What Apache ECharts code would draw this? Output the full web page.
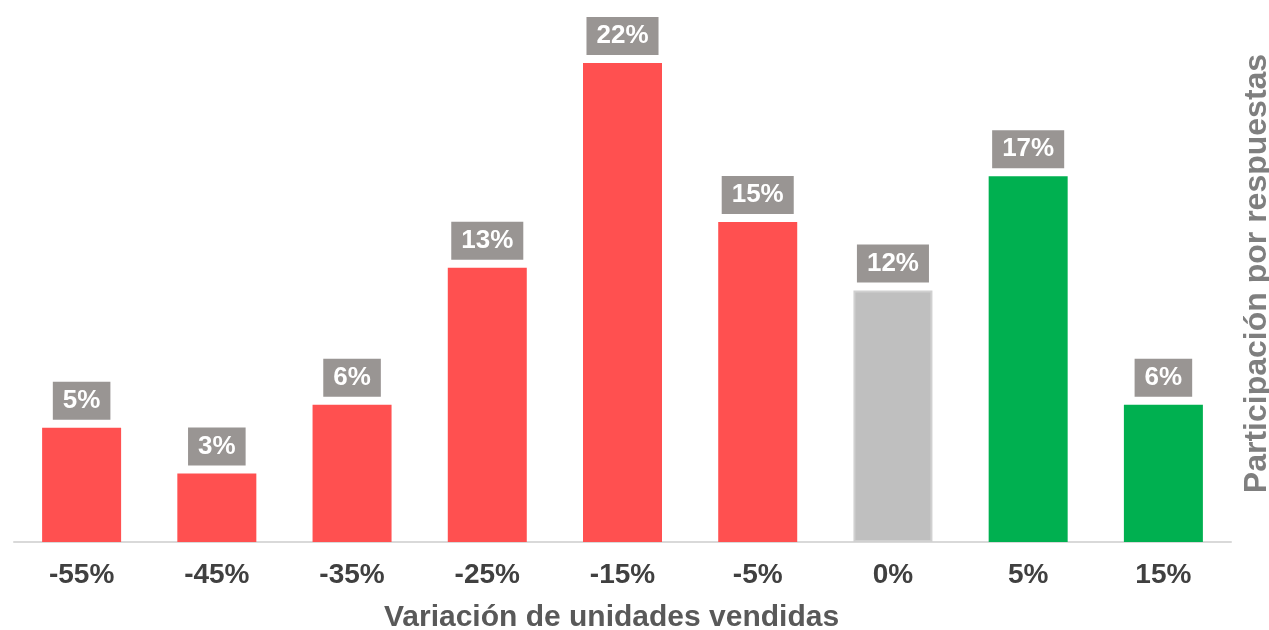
<!DOCTYPE html>
<html>
<head>
<meta charset="utf-8">
<script src="https://cdn.jsdelivr.net/npm/echarts@6/dist/echarts.min.js"></script>
<style>
html,body{margin:0;padding:0;background:#fff;}
#chart{width:1269px;height:630px;}
</style>
</head>
<body>
<div id="chart"></div>
<script>
const categories = ['-55%','-45%','-35%','-25%','-15%','-5%','0%','5%','15%'];
const values = [5.32, 3.19, 6.39, 12.77, 22.30, 14.90, 11.71, 17.03, 6.39];
const barColors = ['#ff5050','#ff5050','#ff5050','#ff5050','#ff5050','#ff5050','#bfbfbf','#00b050','#00b050'];
const xName = 'Variación de unidades vendidas';
const yName = 'Participación por respuestas';

const chart = echarts.init(document.getElementById('chart'));
const font = '"Liberation Sans", Arial, sans-serif';
chart.setOption({
  animation: false,
  grid: {left: 14, right: 38, top: 5, bottom: 88, containLabel: false, outerBoundsMode: 'none'},
  xAxis: {
    type: 'category',
    data: categories,
    name: xName,
    nameLocation: 'middle',
    nameGap: 61,
    nameTextStyle: {fontFamily: font, fontSize: 30, fontWeight: 'bold', color: '#595959', padding: [0, 22, 0, 0]},
    axisLine: {lineStyle: {color: '#d9d9d9', width: 2}},
    axisTick: {show: false},
    axisLabel: {fontFamily: font, fontSize: 28, fontWeight: 'bold', color: '#404040', margin: 19}
  },
  yAxis: {
    type: 'value',
    min: 0, max: 25,
    position: 'right',
    name: yName,
    nameLocation: 'middle',
    nameRotate: 90,
    nameGap: 10,
    nameTextStyle: {fontFamily: font, fontSize: 32, fontWeight: 'bold', color: '#7f7f7f'},
    axisLine: {show: false},
    axisTick: {show: false},
    axisLabel: {show: false},
    splitLine: {show: false}
  },
  series: [{
    type: 'bar',
    barWidth: 79,
    data: values.map((v, i) => ({
      value: v,
      itemStyle: {color: barColors[i], borderColor: i === 6 ? '#d0d0d0' : barColors[i], borderWidth: i === 6 ? 2 : 0}
    })),
    label: {
      show: true,
      position: 'top',
      distance: 8,
      formatter: p => Math.round(p.value) + '%',
      fontFamily: font,
      fontSize: 26,
      fontWeight: 'bold',
      color: '#ffffff',
      backgroundColor: '#999593',
      padding: [6, 10, 6, 10],
      lineHeight: 26
    }
  }]
});
</script>
</body>
</html>
